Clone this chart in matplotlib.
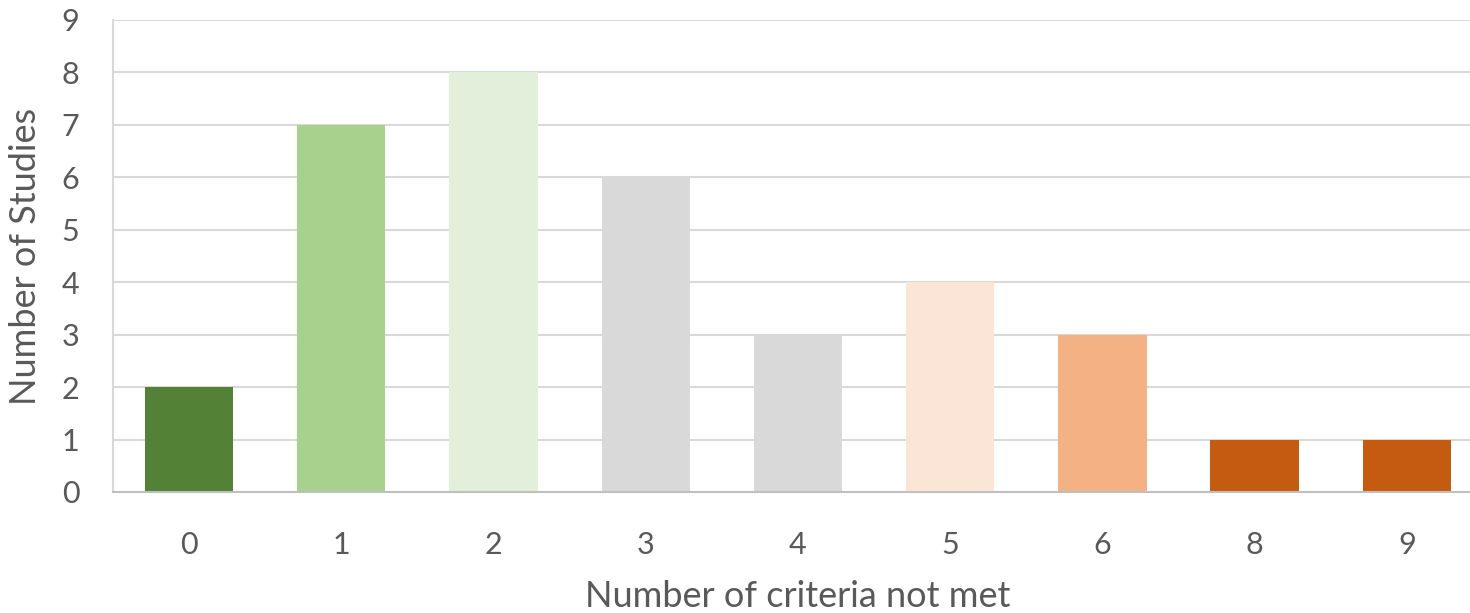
import matplotlib.pyplot as plt

criteria = ["0", "1", "2", "3", "4", "5", "6", "8", "9"]
studies = [2, 7, 8, 6, 3, 4, 3, 1, 1]
colors = ["#538135", "#A9D18E", "#E2EFDA", "#D9D9D9", "#D9D9D9",
          "#FBE5D6", "#F4B183", "#C55A11", "#C55A11"]

plt.rcParams['font.family'] = ['Lato', 'DejaVu Sans']
text_color = "#595959"

fig = plt.figure(figsize=(14.7, 6.13), dpi=100)
ax = fig.add_axes([0.0768, 0.1974, 0.932, 0.770])

pos = list(range(len(criteria)))
ax.bar(pos, studies, width=0.58, color=colors, zorder=3)

ax.set_xlim(-0.5, len(criteria) - 0.5)
ax.set_ylim(0, 9)
ax.set_yticks(range(0, 10))
ax.set_xticks(pos)
ax.set_xticklabels(criteria)

ax.grid(axis='y', color="#D9D9D9", linewidth=1.5, zorder=0)
for side in ['top', 'right']:
    ax.spines[side].set_visible(False)
ax.spines['left'].set_color("#D9D9D9")
ax.spines['left'].set_linewidth(1.5)
ax.spines['bottom'].set_color("#BFBFBF")
ax.spines['bottom'].set_linewidth(1.5)
ax.spines['bottom'].set_zorder(4)

ax.tick_params(axis='both', length=0, labelsize=22, colors=text_color)
ax.tick_params(axis='x', pad=28)
ax.tick_params(axis='y', pad=24)

ax.set_xlabel("Number of criteria not met", fontsize=26, color=text_color, labelpad=15)
ax.set_ylabel("Number of Studies", fontsize=26, color=text_color, labelpad=14)

fig.savefig("out.png", dpi=100)
